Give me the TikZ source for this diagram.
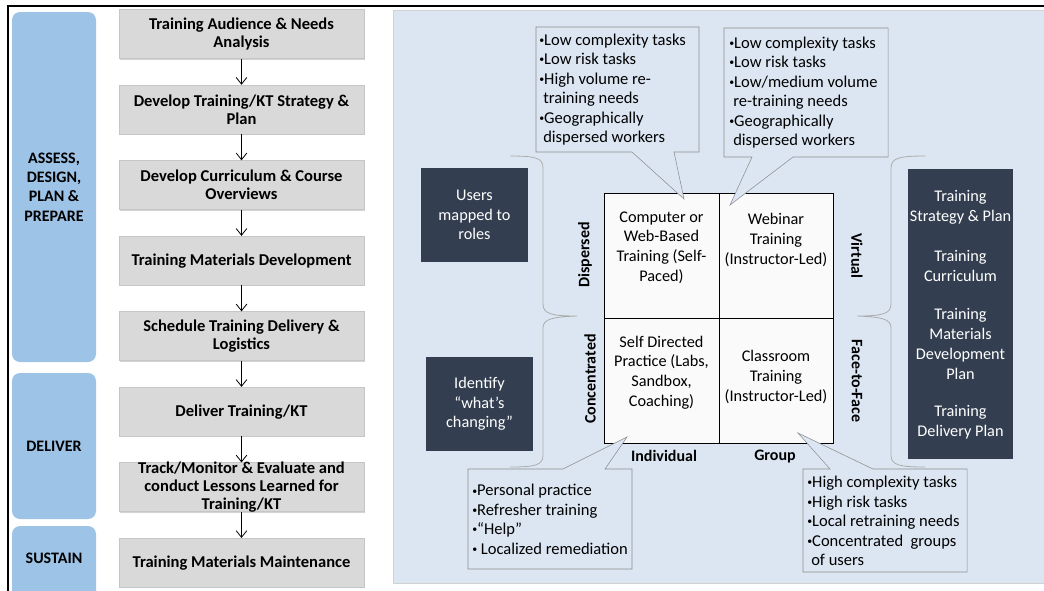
\documentclass[tikz,border=0pt]{standalone}
\usepackage{fontspec}
\setmainfont{Carlito}
\usetikzlibrary{arrows.meta,positioning,shadows}

\definecolor{phaseblue}{HTML}{9DC3E6}
\definecolor{boxgray}{HTML}{D9D9D9}
\definecolor{panelblue}{HTML}{DCE6F2}
\definecolor{slate}{HTML}{333F50}
\definecolor{cellwhite}{HTML}{FAFAFA}

\newcommand\bul{\raisebox{0.25ex}{\scalebox{0.6}{•}}}

\tikzset{
  stepbox/.style={draw=gray!45, fill=boxgray, minimum width=184pt, minimum height=36.75pt,
    inner sep=1pt, align=center, font=\bfseries\fontsize{12.4}{13.5}\selectfont,
    drop shadow={shadow xshift=0.8pt, shadow yshift=-0.8pt, opacity=0.35}},
  phase/.style={fill=phaseblue, rounded corners=6pt, minimum width=63pt, align=center,
    font=\bfseries\fontsize{12}{14.5}\selectfont},
  phasetxt/.style={align=center, font=\bfseries\fontsize{12}{14.5}\selectfont},
  flow/.style={-{Straight Barb[length=5pt,width=8pt]}, semithick},
  darkbox/.style={fill=slate, text=white, align=center, font=\fontsize{12.2}{14.5}\selectfont},
  darktxt/.style={text=white, align=center, font=\fontsize{12.2}{15}\selectfont},
  cell/.style={align=center, font=\fontsize{12.2}{14.8}\selectfont},
  axislbl/.style={font=\bfseries\fontsize{12}{14}\selectfont},
  bubble/.style={draw=gray!90, fill=panelblue},
  bubbletxt/.style={anchor=west, align=left, inner sep=0pt, font=\fontsize{12.4}{14.6}\selectfont},
  brace/.style={draw=gray!65, semithick}
}

\begin{document}
\begin{tikzpicture}[x=0.75pt, y=-0.75pt]
\useasboundingbox (0,0) rectangle (1044,590);
\clip (0,0) rectangle (1044,590);

% frame
\draw[line width=2.2pt] (8,592) -- (8,6) -- (1046,6);

% phases
\node[phase, minimum height=262.5pt] (assess) at (54,187) {ASSESS,\\DESIGN,\\PLAN \&\\PREPARE};
\node[phase, minimum height=109.5pt] (deliver) at (54,446) {DELIVER};
\fill[phaseblue, rounded corners=6pt] (12,526) rectangle (96,610);
\node[phasetxt] (sustain) at (54,558) {SUSTAIN};

% steps
\node[stepbox] (aud) at (241.5,34) {Training Audience \& Needs\\Analysis};
\node[stepbox, below=19.5pt of aud] (strat) {Develop Training/KT Strategy \&\\Plan};
\node[stepbox, below=19.5pt of strat] (curr) {Develop Curriculum \& Course\\Overviews};
\node[stepbox, below=19.5pt of curr] (mat) {Training Materials Development};
\node[stepbox, below=19.5pt of mat] (sched) {Schedule Training Delivery \&\\Logistics};
\node[stepbox, below=19.5pt of sched] (deliv) {Deliver Training/KT};
\node[stepbox, below=19.5pt of deliv] (track) {};
\node[stepbox, below=19.5pt of track] (maint) {Training Materials Maintenance};
\node[align=center, font=\bfseries\fontsize{12.4}{13.5}\selectfont] (tracktxt) at (track.center)
  {Track/Monitor \& Evaluate and\\conduct Lessons Learned for\\Training/KT};

\foreach \a/\b in {aud/strat, strat/curr, curr/mat, mat/sched, sched/deliv, deliv/track, track/maint}
  \draw[flow] (\a) -- (\b);

% right panel
\fill[panelblue] (393,10) rectangle (1050,583);
\draw[gray!35] (1050,583) -- (393,583) -- (393,10) -- (1050,10);

% grid
\draw[fill=cellwhite] (604,193) rectangle (833,443);
\draw (719,193) -- (719,443);
\draw (604,318) -- (833,318);
\node[cell] (cbt) at (661.5,247.5) {Computer or\\Web-Based\\Training (Self-\\Paced)};
\node[cell] (web) at (776,240) {Webinar\\Training\\(Instructor-Led)};
\node[cell] (self) at (661.5,372.5) {Self Directed\\Practice (Labs,\\Sandbox,\\Coaching)};
\node[cell] (class) at (776,377) {Classroom\\Training\\(Instructor-Led)};

\node[axislbl, rotate=90] (disp) at (585,255) {Dispersed};
\node[axislbl, rotate=90] (conc) at (590,379) {Concentrated};
\node[axislbl, rotate=-90] (virt) at (857,256) {Virtual};
\node[axislbl, rotate=-90] (f2f) at (857,381) {Face-to-Face};
\node[axislbl] (indiv) at (664,456) {Individual};
\node[axislbl] (grp) at (775,456) {Group};

% braces
\draw[brace] (510,156) .. controls (536,156) and (543,158) .. (543,168) -- (543,304)
  .. controls (543,314) and (552,316) .. (577,316)
  .. controls (552,317) and (543,319) .. (543,328) -- (543,455)
  .. controls (543,465) and (536,467) .. (510,467);
\draw[brace] (925,156) .. controls (899,156) and (891,158) .. (891,168) -- (891,304)
  .. controls (891,314) and (882,316) .. (857,316)
  .. controls (882,317) and (891,319) .. (891,328) -- (891,455)
  .. controls (891,465) and (899,467) .. (925,467);

% dark boxes
\node[darkbox, minimum width=80pt, minimum height=70.5pt] (users) at (474.5,215) {Users\\mapped to\\roles};
\node[darkbox, minimum width=80pt, minimum height=70.5pt] (ident) at (479.5,404) {Identify\\``what’s\\changing''};
\fill[slate] (908,169) rectangle (1013,459);
\node[darktxt] (strpl) at (960.5,207) {Training\\Strategy \& Plan};
\node[darktxt] (currpl) at (960.5,266) {Training\\Curriculum};
\node[darktxt] (matpl) at (960.5,343.5) {Training\\Materials\\Development\\Plan};
\node[darktxt] (delpl) at (960.5,422) {Training\\Delivery Plan};

% callouts
\draw[bubble] (536,27) -- (699,27) -- (699,152) -- (674,152) -- (684,199) -- (632,152) -- (536,152) -- cycle;
\node[bubbletxt] (cbtnote) at (539,89.5) {\bul Low complexity tasks\\\bul Low risk tasks\\\bul High volume re-\\\hspace*{3pt}training needs\\\bul Geographically\\\hspace*{3pt}dispersed workers};

\draw[bubble] (724,28) -- (888,28) -- (888,157) -- (793,157) -- (730,205) -- (752,157) -- (724,157) -- cycle;
\node[bubbletxt] (webnote) at (729,92.5) {\bul Low complexity tasks\\\bul Low risk tasks\\\bul Low/medium volume\\\hspace*{3pt}re-training needs\\\bul Geographically\\\hspace*{3pt}dispersed workers};

\draw[bubble] (468,469) -- (563,469) -- (627,437) -- (605,469) -- (632,469) -- (632,569) -- (468,569) -- cycle;
\node[bubbletxt] (selfnote) at (472,519.5) {\bul Personal practice\\\bul Refresher training\\\bul “Help”\\\bul\ Localized remediation};

\draw[bubble] (803,469) -- (830,469) -- (798,433) -- (873,469) -- (967,469) -- (967,572) -- (803,572) -- cycle;
\node[bubbletxt] (grpnote) at (807,521) {\bul High complexity tasks\\\bul High risk tasks\\\bul Local retraining needs\\\bul Concentrated\ \ groups\\\hspace*{3pt}of users};
\end{tikzpicture}
\end{document}
